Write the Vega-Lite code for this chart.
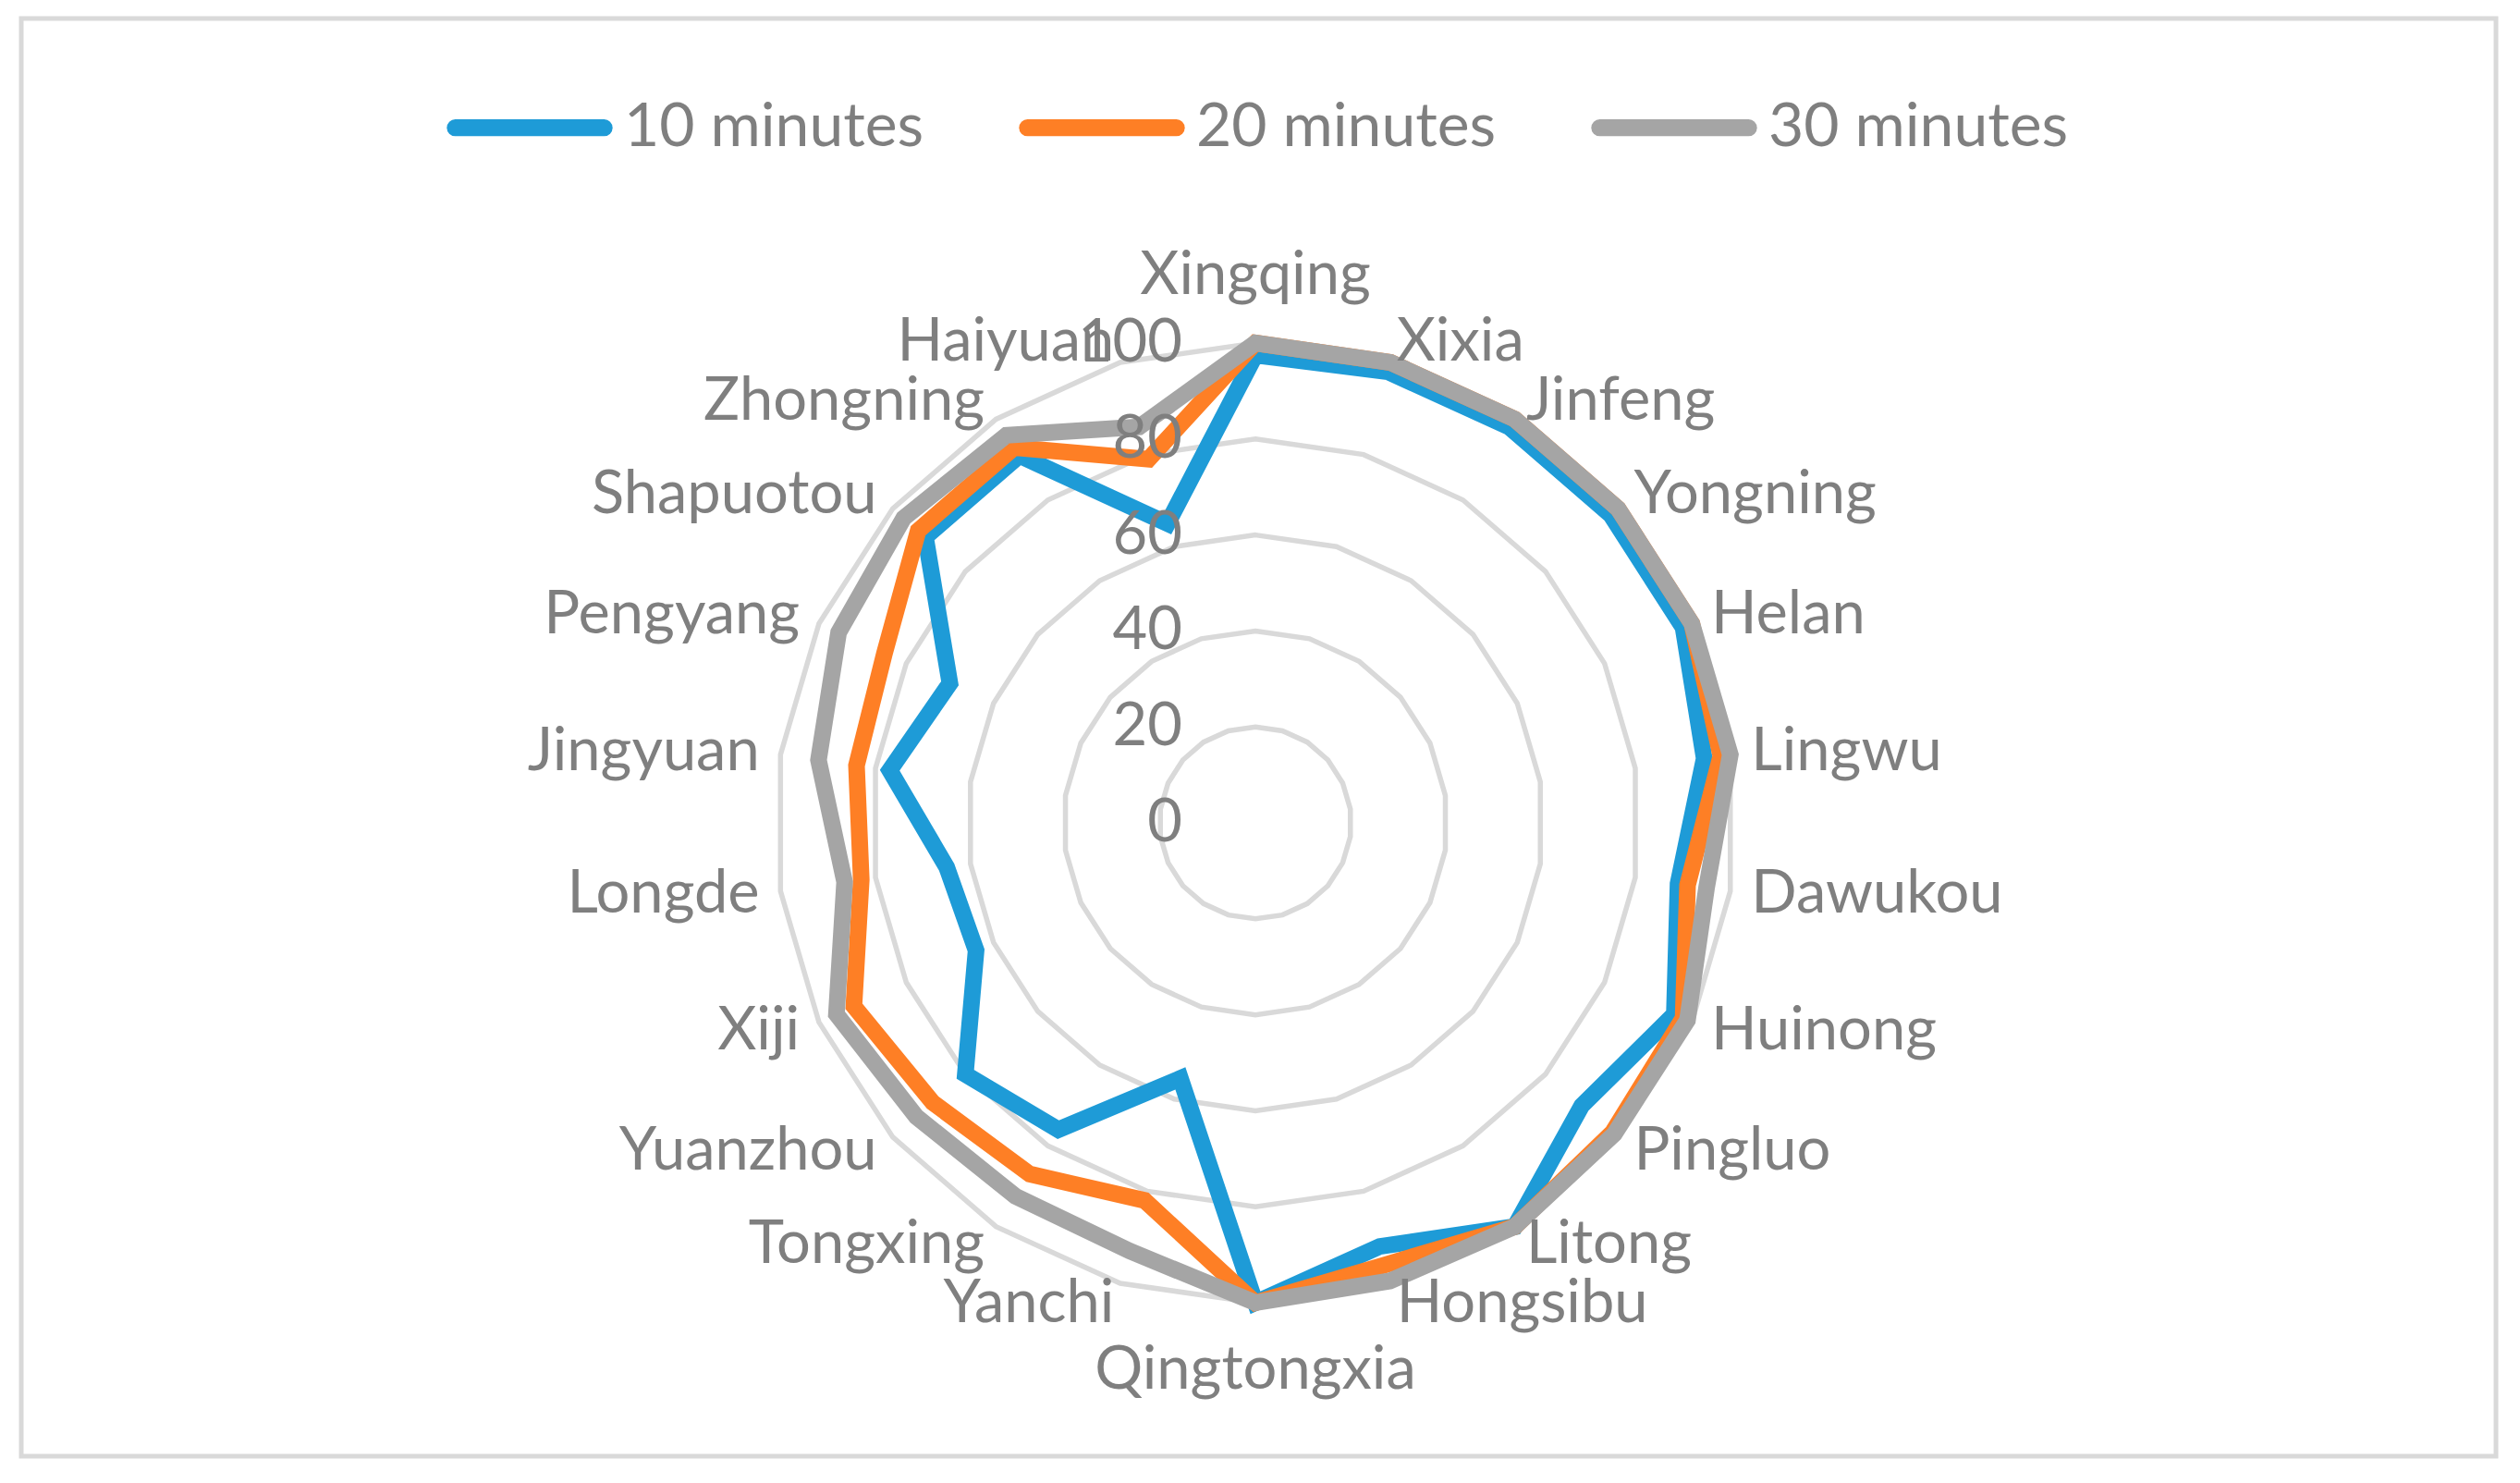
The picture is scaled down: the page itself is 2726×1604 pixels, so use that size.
{
  "$schema": "https://vega.github.io/schema/vega-lite/v6.json",
  "width": 2677,
  "height": 1555,
  "autosize": {"type": "none"},
  "padding": {"left": 23, "top": 20, "right": 26, "bottom": 29},
  "background": "white",
  "config": {
    "view": {"stroke": "#D9D9D9", "strokeWidth": 5},
    "font": "Lato",
    "text": {"font": "Lato", "fontSize": 65, "color": "#7F7F7F"}
  },
  "datasets": {
    "series": [
      {"cat": "Xingqing", "i": 0, "series": "10 minutes", "value": 97.5},
      {"cat": "Xixia", "i": 1, "series": "10 minutes", "value": 98},
      {"cat": "Jinfeng", "i": 2, "series": "10 minutes", "value": 98},
      {"cat": "Yongning", "i": 3, "series": "10 minutes", "value": 98},
      {"cat": "Helan", "i": 4, "series": "10 minutes", "value": 98},
      {"cat": "Lingwu", "i": 5, "series": "10 minutes", "value": 94.5},
      {"cat": "Dawukou", "i": 6, "series": "10 minutes", "value": 89},
      {"cat": "Huinong", "i": 7, "series": "10 minutes", "value": 96},
      {"cat": "Pingluo", "i": 8, "series": "10 minutes", "value": 90},
      {"cat": "Litong", "i": 9, "series": "10 minutes", "value": 100},
      {"cat": "Hongsibu", "i": 10, "series": "10 minutes", "value": 92},
      {"cat": "Qingtongxia", "i": 11, "series": "10 minutes", "value": 100},
      {"cat": "Yanchi", "i": 12, "series": "10 minutes", "value": 55.5},
      {"cat": "Tongxing", "i": 13, "series": "10 minutes", "value": 76},
      {"cat": "Yuanzhou", "i": 14, "series": "10 minutes", "value": 80},
      {"cat": "Xiji", "i": 15, "series": "10 minutes", "value": 64},
      {"cat": "Longde", "i": 16, "series": "10 minutes", "value": 65},
      {"cat": "Jingyuan", "i": 17, "series": "10 minutes", "value": 77},
      {"cat": "Pengyang", "i": 18, "series": "10 minutes", "value": 70},
      {"cat": "Shapuotou", "i": 19, "series": "10 minutes", "value": 91},
      {"cat": "Zhongning", "i": 20, "series": "10 minutes", "value": 91},
      {"cat": "Haiyuan", "i": 21, "series": "10 minutes", "value": 65},
      {"cat": "Xingqing", "i": 0, "series": "20 minutes", "value": 100},
      {"cat": "Xixia", "i": 1, "series": "20 minutes", "value": 100},
      {"cat": "Jinfeng", "i": 2, "series": "20 minutes", "value": 100},
      {"cat": "Yongning", "i": 3, "series": "20 minutes", "value": 100},
      {"cat": "Helan", "i": 4, "series": "20 minutes", "value": 100},
      {"cat": "Lingwu", "i": 5, "series": "20 minutes", "value": 98},
      {"cat": "Dawukou", "i": 6, "series": "20 minutes", "value": 91},
      {"cat": "Huinong", "i": 7, "series": "20 minutes", "value": 98},
      {"cat": "Pingluo", "i": 8, "series": "20 minutes", "value": 98.5},
      {"cat": "Litong", "i": 9, "series": "20 minutes", "value": 100},
      {"cat": "Hongsibu", "i": 10, "series": "20 minutes", "value": 96},
      {"cat": "Qingtongxia", "i": 11, "series": "20 minutes", "value": 100},
      {"cat": "Yanchi", "i": 12, "series": "20 minutes", "value": 82},
      {"cat": "Tongxing", "i": 13, "series": "20 minutes", "value": 87},
      {"cat": "Yuanzhou", "i": 14, "series": "20 minutes", "value": 89},
      {"cat": "Xiji", "i": 15, "series": "20 minutes", "value": 92},
      {"cat": "Longde", "i": 16, "series": "20 minutes", "value": 83},
      {"cat": "Jingyuan", "i": 17, "series": "20 minutes", "value": 84},
      {"cat": "Pengyang", "i": 18, "series": "20 minutes", "value": 85},
      {"cat": "Shapuotou", "i": 19, "series": "20 minutes", "value": 93},
      {"cat": "Zhongning", "i": 20, "series": "20 minutes", "value": 93},
      {"cat": "Haiyuan", "i": 21, "series": "20 minutes", "value": 79},
      {"cat": "Xingqing", "i": 0, "series": "30 minutes", "value": 100},
      {"cat": "Xixia", "i": 1, "series": "30 minutes", "value": 100},
      {"cat": "Jinfeng", "i": 2, "series": "30 minutes", "value": 100},
      {"cat": "Yongning", "i": 3, "series": "30 minutes", "value": 100},
      {"cat": "Helan", "i": 4, "series": "30 minutes", "value": 100},
      {"cat": "Lingwu", "i": 5, "series": "30 minutes", "value": 100},
      {"cat": "Dawukou", "i": 6, "series": "30 minutes", "value": 95},
      {"cat": "Huinong", "i": 7, "series": "30 minutes", "value": 99},
      {"cat": "Pingluo", "i": 8, "series": "30 minutes", "value": 99},
      {"cat": "Litong", "i": 9, "series": "30 minutes", "value": 100},
      {"cat": "Hongsibu", "i": 10, "series": "30 minutes", "value": 99.5},
      {"cat": "Qingtongxia", "i": 11, "series": "30 minutes", "value": 100},
      {"cat": "Yanchi", "i": 12, "series": "30 minutes", "value": 93},
      {"cat": "Tongxing", "i": 13, "series": "30 minutes", "value": 92.5},
      {"cat": "Yuanzhou", "i": 14, "series": "30 minutes", "value": 93.5},
      {"cat": "Xiji", "i": 15, "series": "30 minutes", "value": 96},
      {"cat": "Longde", "i": 16, "series": "30 minutes", "value": 86.5},
      {"cat": "Jingyuan", "i": 17, "series": "30 minutes", "value": 92},
      {"cat": "Pengyang", "i": 18, "series": "30 minutes", "value": 95.5},
      {"cat": "Shapuotou", "i": 19, "series": "30 minutes", "value": 97},
      {"cat": "Zhongning", "i": 20, "series": "30 minutes", "value": 96},
      {"cat": "Haiyuan", "i": 21, "series": "30 minutes", "value": 86}
    ],
    "cats": [
      {"cat": "Xingqing", "i": 0}, {"cat": "Xixia", "i": 1}, {"cat": "Jinfeng", "i": 2},
      {"cat": "Yongning", "i": 3}, {"cat": "Helan", "i": 4}, {"cat": "Lingwu", "i": 5},
      {"cat": "Dawukou", "i": 6}, {"cat": "Huinong", "i": 7}, {"cat": "Pingluo", "i": 8},
      {"cat": "Litong", "i": 9}, {"cat": "Hongsibu", "i": 10}, {"cat": "Qingtongxia", "i": 11},
      {"cat": "Yanchi", "i": 12}, {"cat": "Tongxing", "i": 13}, {"cat": "Yuanzhou", "i": 14},
      {"cat": "Xiji", "i": 15}, {"cat": "Longde", "i": 16}, {"cat": "Jingyuan", "i": 17},
      {"cat": "Pengyang", "i": 18}, {"cat": "Shapuotou", "i": 19}, {"cat": "Zhongning", "i": 20},
      {"cat": "Haiyuan", "i": 21}
    ],
    "grid": [
      {"lv":20,"i":0},{"lv":20,"i":1},{"lv":20,"i":2},{"lv":20,"i":3},{"lv":20,"i":4},{"lv":20,"i":5},{"lv":20,"i":6},{"lv":20,"i":7},{"lv":20,"i":8},{"lv":20,"i":9},{"lv":20,"i":10},{"lv":20,"i":11},{"lv":20,"i":12},{"lv":20,"i":13},{"lv":20,"i":14},{"lv":20,"i":15},{"lv":20,"i":16},{"lv":20,"i":17},{"lv":20,"i":18},{"lv":20,"i":19},{"lv":20,"i":20},{"lv":20,"i":21},
      {"lv":40,"i":0},{"lv":40,"i":1},{"lv":40,"i":2},{"lv":40,"i":3},{"lv":40,"i":4},{"lv":40,"i":5},{"lv":40,"i":6},{"lv":40,"i":7},{"lv":40,"i":8},{"lv":40,"i":9},{"lv":40,"i":10},{"lv":40,"i":11},{"lv":40,"i":12},{"lv":40,"i":13},{"lv":40,"i":14},{"lv":40,"i":15},{"lv":40,"i":16},{"lv":40,"i":17},{"lv":40,"i":18},{"lv":40,"i":19},{"lv":40,"i":20},{"lv":40,"i":21},
      {"lv":60,"i":0},{"lv":60,"i":1},{"lv":60,"i":2},{"lv":60,"i":3},{"lv":60,"i":4},{"lv":60,"i":5},{"lv":60,"i":6},{"lv":60,"i":7},{"lv":60,"i":8},{"lv":60,"i":9},{"lv":60,"i":10},{"lv":60,"i":11},{"lv":60,"i":12},{"lv":60,"i":13},{"lv":60,"i":14},{"lv":60,"i":15},{"lv":60,"i":16},{"lv":60,"i":17},{"lv":60,"i":18},{"lv":60,"i":19},{"lv":60,"i":20},{"lv":60,"i":21},
      {"lv":80,"i":0},{"lv":80,"i":1},{"lv":80,"i":2},{"lv":80,"i":3},{"lv":80,"i":4},{"lv":80,"i":5},{"lv":80,"i":6},{"lv":80,"i":7},{"lv":80,"i":8},{"lv":80,"i":9},{"lv":80,"i":10},{"lv":80,"i":11},{"lv":80,"i":12},{"lv":80,"i":13},{"lv":80,"i":14},{"lv":80,"i":15},{"lv":80,"i":16},{"lv":80,"i":17},{"lv":80,"i":18},{"lv":80,"i":19},{"lv":80,"i":20},{"lv":80,"i":21},
      {"lv":100,"i":0},{"lv":100,"i":1},{"lv":100,"i":2},{"lv":100,"i":3},{"lv":100,"i":4},{"lv":100,"i":5},{"lv":100,"i":6},{"lv":100,"i":7},{"lv":100,"i":8},{"lv":100,"i":9},{"lv":100,"i":10},{"lv":100,"i":11},{"lv":100,"i":12},{"lv":100,"i":13},{"lv":100,"i":14},{"lv":100,"i":15},{"lv":100,"i":16},{"lv":100,"i":17},{"lv":100,"i":18},{"lv":100,"i":19},{"lv":100,"i":20},{"lv":100,"i":21}
    ],
    "ticks": [{"v": 0}, {"v": 20}, {"v": 40}, {"v": 60}, {"v": 80}, {"v": 100}]
  },
  "layer": [
    {
      "data": {"name": "grid"},
      "transform": [
        {"calculate": "datum.lv * sin(datum.i * 2 * PI / 22)", "as": "px"},
        {"calculate": "datum.lv * cos(datum.i * 2 * PI / 22)", "as": "py"}
      ],
      "mark": {"type": "line", "stroke": "#D9D9D9", "strokeWidth": 5.5, "interpolate": "linear-closed"},
      "encoding": {
        "x": {"field": "px", "type": "quantitative", "scale": {"domain": [-257.23, 258.57], "nice": false, "zero": false}, "axis": null},
        "y": {"field": "py", "type": "quantitative", "scale": {"domain": [-131.98, 167.63], "nice": false, "zero": false}, "axis": null},
        "detail": {"field": "lv", "type": "nominal"},
        "order": {"field": "i", "type": "quantitative"}
      }
    },
    {
      "data": {"name": "series"},
      "transform": [
        {"calculate": "datum.value * sin(datum.i * 2 * PI / 22)", "as": "px"},
        {"calculate": "datum.value * cos(datum.i * 2 * PI / 22)", "as": "py"}
      ],
      "mark": {"type": "line", "strokeWidth": 18, "interpolate": "linear-closed", "strokeJoin": "miter"},
      "encoding": {
        "x": {"field": "px", "type": "quantitative", "scale": {"domain": [-257.23, 258.57], "nice": false, "zero": false}, "axis": null},
        "y": {"field": "py", "type": "quantitative", "scale": {"domain": [-131.98, 167.63], "nice": false, "zero": false}, "axis": null},
        "color": {
          "field": "series", "type": "nominal",
          "scale": {"domain": ["10 minutes", "20 minutes", "30 minutes"], "range": ["#1E9BD7", "#FE7F25", "#A5A5A5"]},
          "legend": {
            "title": null, "orient": "none", "direction": "horizontal",
            "legendX": 460, "legendY": 28,
            "symbolType": "stroke", "symbolSize": 25921, "symbolStrokeWidth": 18.3,
            "labelFontSize": 66, "labelFont": "Lato", "labelColor": "#7F7F7F", "labelLimit": 0,
            "labelOffset": 12, "columnPadding": 74, "padding": 0,
            "symbolOpacity": 1,
            "encode": {"symbols": {"update": {"strokeCap": {"value": "round"}}}}
          }
        },
        "order": {"field": "i", "type": "quantitative"}
      }
    },
    {
      "data": {"name": "ticks"},
      "mark": {"type": "text", "align": "right", "baseline": "middle", "dx": -79},
      "encoding": {
        "x": {"datum": 0, "type": "quantitative"},
        "y": {"field": "v", "type": "quantitative"},
        "text": {"field": "v", "type": "quantitative"}
      }
    },
    {
      "data": {"name": "cats"},
      "transform": [
        {"filter": "datum.i >= 1 && datum.i <= 10"},
        {"calculate": "104.4 * sin(datum.i * 2 * PI / 22)", "as": "px"},
        {"calculate": "104.4 * cos(datum.i * 2 * PI / 22)", "as": "py"}
      ],
      "mark": {"type": "text", "align": "left", "baseline": "middle"},
      "encoding": {
        "x": {"field": "px", "type": "quantitative"},
        "y": {"field": "py", "type": "quantitative"},
        "text": {"field": "cat", "type": "nominal"}
      }
    },
    {
      "data": {"name": "cats"},
      "transform": [
        {"filter": "datum.i >= 12"},
        {"calculate": "104.4 * sin(datum.i * 2 * PI / 22)", "as": "px"},
        {"calculate": "104.4 * cos(datum.i * 2 * PI / 22)", "as": "py"}
      ],
      "mark": {"type": "text", "align": "right", "baseline": "middle"},
      "encoding": {
        "x": {"field": "px", "type": "quantitative"},
        "y": {"field": "py", "type": "quantitative"},
        "text": {"field": "cat", "type": "nominal"}
      }
    },
    {
      "data": {"name": "cats"},
      "transform": [
        {"filter": "datum.i == 0 || datum.i == 11"},
        {"calculate": "114.1 * sin(datum.i * 2 * PI / 22)", "as": "px"},
        {"calculate": "114.1 * cos(datum.i * 2 * PI / 22)", "as": "py"}
      ],
      "mark": {"type": "text", "align": "center", "baseline": "middle"},
      "encoding": {
        "x": {"field": "px", "type": "quantitative"},
        "y": {"field": "py", "type": "quantitative"},
        "text": {"field": "cat", "type": "nominal"}
      }
    }
  ]
}
